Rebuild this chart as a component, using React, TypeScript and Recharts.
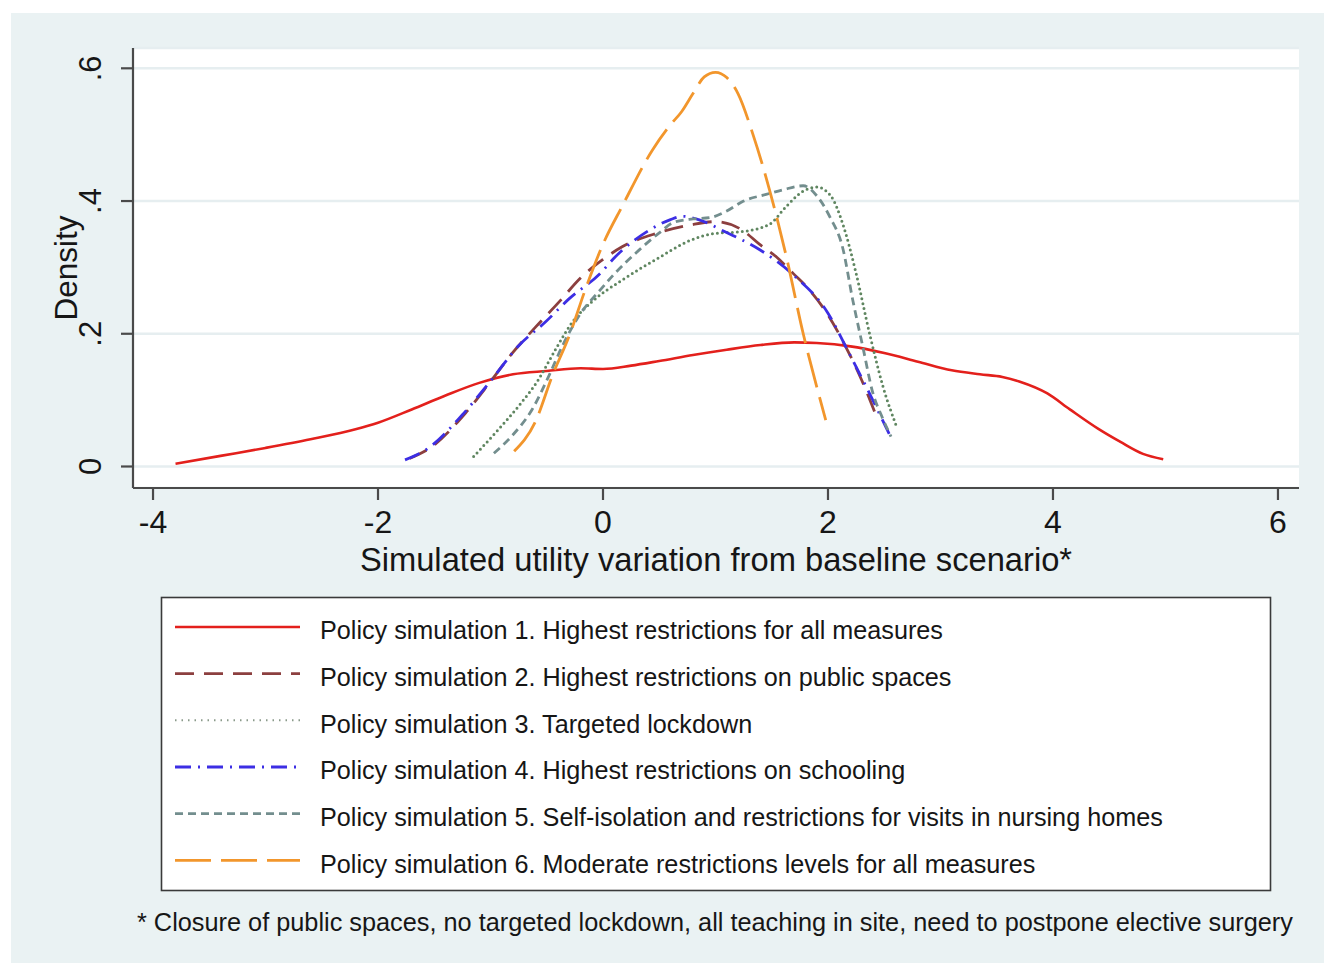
import { LineChart, Line, XAxis, YAxis, CartesianGrid } from 'recharts';

const FONT = '"Liberation Sans", Arial, Helvetica, sans-serif';
const TEXT = '#161616';
const AXIS = '#4a4a4a';

const xTicks = [-4, -2, 0, 2, 4, 6];
const yTicks = [0, 0.2, 0.4, 0.6];
const yTickLabels = ['0', '.2', '.4', '.6'];

// density curves (x = utility variation, y = density)
const sim1X = [-3.8, -3.4, -3.0, -2.6, -2.2, -2.0, -1.7, -1.4, -1.1, -0.8, -0.5, -0.2, 0.0, 0.25, 0.5, 0.8, 1.1, 1.4, 1.7, 1.9, 2.2, 2.5, 2.8, 3.1, 3.35, 3.55, 3.7, 3.95, 4.15, 4.4, 4.6, 4.8, 4.98];
const sim1Y = [0.004, 0.016, 0.028, 0.041, 0.056, 0.066, 0.086, 0.107, 0.126, 0.139, 0.144, 0.148, 0.147, 0.152, 0.159, 0.168, 0.176, 0.183, 0.187, 0.186, 0.181, 0.171, 0.158, 0.145, 0.139, 0.135, 0.128, 0.11, 0.086, 0.057, 0.037, 0.019, 0.011];

const sim2X = [-1.72, -1.52, -1.22, -1.0, -0.81, -0.6, -0.39, -0.2, 0.0, 0.17, 0.47, 0.78, 1.0, 1.24, 1.39, 1.54, 1.69, 1.84, 1.99, 2.15, 2.3, 2.42];
const sim2Y = [0.012, 0.03, 0.081, 0.128, 0.17, 0.21, 0.248, 0.284, 0.312, 0.331, 0.351, 0.364, 0.369, 0.356, 0.335, 0.316, 0.291, 0.265, 0.231, 0.183, 0.13, 0.08];

const sim3X = [-1.15, -0.955, -0.75, -0.57, -0.42, -0.27, -0.1, 0.17, 0.47, 0.78, 0.99, 1.24, 1.48, 1.63, 1.78, 1.9, 2.02, 2.14, 2.25, 2.37, 2.49, 2.61];
const sim3Y = [0.015, 0.051, 0.091, 0.132, 0.177, 0.218, 0.248, 0.281, 0.312, 0.341, 0.351, 0.354, 0.365, 0.392, 0.415, 0.421, 0.409, 0.361, 0.291, 0.2, 0.12, 0.06];

const sim4X = [-1.76, -1.55, -1.25, -0.985, -0.75, -0.51, -0.3, -0.03, 0.11, 0.41, 0.6, 0.71, 0.85, 1.08, 1.39, 1.69, 2.0, 2.16, 2.34, 2.55];
const sim4Y = [0.01, 0.028, 0.078, 0.132, 0.182, 0.218, 0.253, 0.29, 0.316, 0.356, 0.372, 0.377, 0.372, 0.354, 0.327, 0.289, 0.231, 0.18, 0.12, 0.047];

const sim5X = [-0.97, -0.81, -0.63, -0.48, -0.36, -0.21, -0.03, 0.1, 0.32, 0.5, 0.63, 0.8, 0.95, 1.1, 1.25, 1.45, 1.6, 1.78, 1.9, 2.02, 2.13, 2.22, 2.31, 2.4, 2.48, 2.56];
const sim5Y = [0.02, 0.046, 0.086, 0.137, 0.182, 0.228, 0.265, 0.29, 0.326, 0.352, 0.368, 0.373, 0.375, 0.385, 0.4, 0.41, 0.417, 0.423, 0.408, 0.375, 0.33, 0.251, 0.18, 0.11, 0.075, 0.045];

const sim6X = [-0.79, -0.6, -0.45, -0.3, -0.15, 0.0, 0.17, 0.44, 0.6, 0.7, 0.8, 0.9, 1.0, 1.1, 1.2, 1.33, 1.48, 1.63, 1.78, 1.9, 1.98];
const sim6Y = [0.023, 0.068, 0.137, 0.197, 0.27, 0.335, 0.392, 0.477, 0.515, 0.535, 0.562, 0.587, 0.594, 0.586, 0.562, 0.502, 0.417, 0.316, 0.2, 0.12, 0.07];

const legendLabels = [
  'Policy simulation 1. Highest restrictions for all measures',
  'Policy simulation 2. Highest restrictions on public spaces',
  'Policy simulation 3. Targeted lockdown',
  'Policy simulation 4. Highest restrictions on schooling',
  'Policy simulation 5. Self-isolation and restrictions for visits in nursing homes',
  'Policy simulation 6. Moderate restrictions levels for all measures',
];

const xTitle = 'Simulated utility variation from baseline scenario*';
const yTitle = 'Density';
const footnote = '* Closure of public spaces, no targeted lockdown, all teaching in site, need to postpone elective surgery';

const toPoints = (xs: number[], ys: number[]) => xs.map((x, i) => ({ x, y: ys[i] }));

const series = [
  { key: 's1', pts: toPoints(sim1X, sim1Y), color: '#e3201c', dash: undefined, cap: 'butt', width: 2.6 },
  { key: 's2', pts: toPoints(sim2X, sim2Y), color: '#8c3f3f', dash: '19 10', cap: 'butt', width: 2.8 },
  { key: 's3', pts: toPoints(sim3X, sim3Y), color: '#5f8660', dash: '0 5', cap: 'round', width: 3 },
  { key: 's4', pts: toPoints(sim4X, sim4Y), color: '#3c2ee4', dash: '16 7 2 7', cap: 'butt', width: 2.8 },
  { key: 's5', pts: toPoints(sim5X, sim5Y), color: '#738e8e', dash: '8 5', cap: 'butt', width: 2.8 },
  { key: 's6', pts: toPoints(sim6X, sim6Y), color: '#f2962c', dash: '36 10', cap: 'butt', width: 2.8 },
];

function XTick(props: any) {
  const { x, payload } = props;
  return (
    <text x={x} y={533} textAnchor="middle" fontFamily={FONT} fontSize={32} fill={TEXT}>
      {String(payload.value)}
    </text>
  );
}

function YTick(props: any) {
  const { y, payload } = props;
  const i = yTicks.findIndex(v => Math.abs(v - payload.value) < 1e-9);
  const label = i >= 0 ? yTickLabels[i] : String(payload.value);
  return (
    <text
      x={91}
      y={y}
      transform={`rotate(-90, 91, ${y})`}
      textAnchor="middle"
      dominantBaseline="central"
      fontFamily={FONT}
      fontSize={31}
      fill={TEXT}
    >
      {label}
    </text>
  );
}

function XTitle(props: any) {
  const vb = props.viewBox;
  return (
    <text x={vb.x + vb.width / 2} y={571} textAnchor="middle" fontFamily={FONT} fontSize={32.7} fill={TEXT}>
      {xTitle}
    </text>
  );
}

function YTitle(props: any) {
  const vb = props.viewBox;
  const cy = vb.y + vb.height / 2;
  return (
    <text x={77} y={cy} transform={`rotate(-90, 77, ${cy})`} textAnchor="middle" fontFamily={FONT} fontSize={31.5} fill={TEXT}>
      {yTitle}
    </text>
  );
}

function LegendBox() {
  const rowGap = 46.67;
  return (
    <svg width={1324} height={966} style={{ position: 'absolute', left: 0, top: 0 }}>
      <rect x={161.5} y={597.5} width={1109} height={293} fill="#ffffff" stroke="#3a3a3a" strokeWidth={1.6} />
      {series.map((s, i) => (
        <g key={s.key}>
          <line
            x1={175}
            x2={300}
            y1={627 + rowGap * i}
            y2={627 + rowGap * i}
            stroke={s.key === 's3' ? '#8a9a8a' : s.color}
            strokeWidth={s.key === 's3' ? 2 : s.width}
            strokeDasharray={s.key === 's3' ? '1.5 5' : s.dash}
            strokeLinecap={s.key === 's3' ? 'butt' : (s.cap as any)}
          />
          <text x={320} y={639.3 + rowGap * i} fontFamily={FONT} fontSize={25.2} fill={TEXT}>
            {legendLabels[i]}
          </text>
        </g>
      ))}
      <text x={137} y={931} fontFamily={FONT} fontSize={25.3} fill={TEXT}>
        {footnote}
      </text>
    </svg>
  );
}

export default function App() {
  return (
    <div style={{ position: 'absolute', left: 0, top: 0, width: 1324, height: 966, background: '#ffffff', overflow: 'hidden' }}>
      <div style={{ position: 'absolute', left: 11, top: 13, width: 1313, height: 950, background: '#eaf2f3' }} />
      <div style={{ position: 'absolute', left: 0, top: 0 }}>
        <LineChart width={1324} height={600} margin={{ top: 48, right: 25, bottom: 0, left: 0 }}>
          <CartesianGrid vertical={false} stroke="#e6eef0" strokeWidth={2.5} fill="#ffffff" />
          <XAxis
            type="number"
            dataKey="x"
            domain={[-4.178, 6.187]}
            allowDataOverflow
            ticks={xTicks}
            height={112}
            tickSize={12}
            tick={<XTick />}
            axisLine={{ stroke: AXIS, strokeWidth: 2.2 }}
            tickLine={{ stroke: AXIS, strokeWidth: 2.2 }}
            label={<XTitle />}
          />
          <YAxis
            type="number"
            dataKey="y"
            domain={[-0.0324, 0.6306]}
            allowDataOverflow
            ticks={yTicks}
            width={133}
            tickSize={12}
            tick={<YTick />}
            axisLine={{ stroke: AXIS, strokeWidth: 2.2 }}
            tickLine={{ stroke: AXIS, strokeWidth: 2.2 }}
            label={<YTitle />}
          />
          {series.map(s => (
            <Line
              key={s.key}
              data={s.pts}
              dataKey="y"
              type="monotone"
              stroke={s.color}
              strokeWidth={s.width}
              strokeDasharray={s.dash}
              strokeLinecap={s.cap as any}
              dot={false}
              activeDot={false}
              isAnimationActive={false}
            />
          ))}
        </LineChart>
      </div>
      <LegendBox />
    </div>
  );
}
